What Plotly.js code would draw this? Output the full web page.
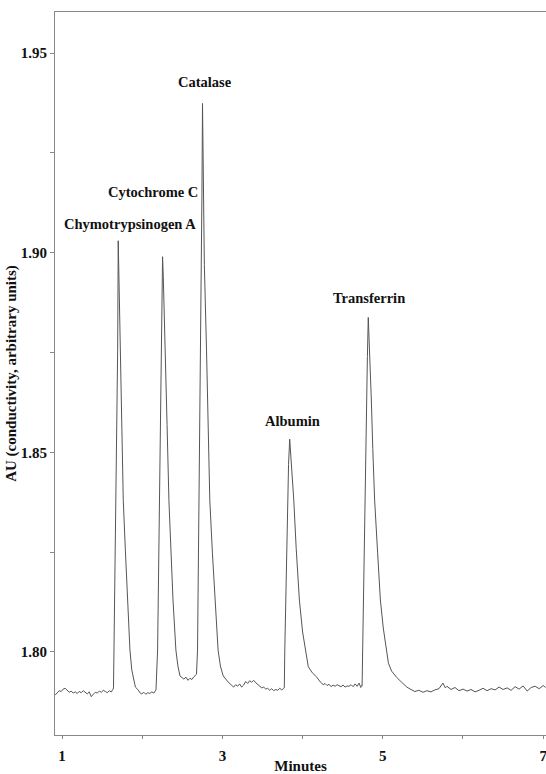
<!DOCTYPE html>
<html>
<head>
<meta charset="utf-8">
<script src="https://cdn.plot.ly/plotly-3.0.1.min.js"></script>
<style>html,body{margin:0;padding:0;background:#fff;}#chart{width:546px;height:774px;}</style>
</head>
<body>
<div id="chart"></div>
<script>
// Time (minutes) and detector signal (AU)
var minutes = [
  0.915,0.94,0.965,0.99,1.015,1.04,1.065,1.09,1.115,1.14,1.165,1.19,1.215,1.24,1.265,1.29,1.315,1.34,1.365,1.39,1.415,1.44,1.465,1.49,1.515,1.54,1.565,1.59,1.615,1.635,
  1.642,1.648,1.660,1.673,1.685,1.694,1.701,1.710,1.723,1.742,1.764,1.790,1.818,1.847,1.870,1.889,1.915,1.950,
  1.97,1.995,2.02,2.045,2.07,2.095,2.12,2.145,2.165,
  2.172,2.192,2.202,2.212,2.222,2.233,2.244,2.254,2.263,2.275,2.291,2.310,2.333,2.358,2.384,2.420,2.445,2.471,2.495,
  2.52,2.545,2.57,2.595,2.62,2.645,2.665,
  2.677,2.690,2.700,2.711,2.720,2.731,2.745,2.752,2.760,2.775,2.802,2.820,2.843,2.875,2.908,2.946,2.975,3.010,3.070,3.140,
  3.165,3.19,3.215,3.24,3.265,3.29,3.315,3.34,3.365,3.39,3.415,3.44,3.465,3.49,3.515,3.54,3.565,3.59,3.615,3.64,3.665,3.69,3.715,3.74,3.76,
  3.772,3.778,3.795,3.811,3.825,3.839,3.850,3.868,3.890,3.920,3.960,4.000,4.035,4.071,4.120,4.176,4.220,4.258,
  4.28,4.305,4.33,4.355,4.38,4.405,4.43,4.455,4.48,4.505,4.53,4.555,4.58,4.605,4.63,4.655,4.68,4.705,4.725,4.737,
  4.742,4.749,4.762,4.778,4.798,4.808,4.819,4.830,4.845,4.857,4.875,4.898,4.935,4.970,5.006,5.044,5.070,5.110,5.170,5.230,5.300,
  5.35,5.40,5.45,5.50,5.55,5.60,5.65,5.70,5.75,5.78,5.80,5.85,5.90,5.95,6.00,6.05,6.10,6.15,6.20,6.25,6.30,6.35,6.40,6.45,6.50,6.55,6.60,6.65,6.70,6.75,6.80,6.85,6.90,6.95,7.00,7.03
];
var signal = [
  1.7892,1.7898,1.7903,1.7901,1.7907,1.7909,1.7905,1.7899,1.7902,1.7897,1.7900,1.7896,1.7901,1.7898,1.7903,1.7899,1.7895,1.7900,1.7888,1.7894,1.7899,1.7897,1.7902,1.7899,1.7904,1.7901,1.7898,1.7903,1.7900,1.7906,
  1.7910,1.8005,1.8200,1.8380,1.8580,1.8756,1.9030,1.8930,1.8756,1.8570,1.8380,1.8255,1.8130,1.8005,1.7955,1.7935,1.7912,1.7905,
  1.7898,1.7895,1.7899,1.7894,1.7898,1.7896,1.7900,1.7897,1.7902,
  1.7905,1.8005,1.8190,1.8380,1.8560,1.8756,1.8900,1.8990,1.8940,1.8860,1.8756,1.8570,1.8380,1.8250,1.8130,1.8005,1.7965,1.7940,1.7936,
  1.7932,1.7937,1.7929,1.7934,1.7931,1.7938,1.7942,
  1.7944,1.8005,1.8190,1.8381,1.8560,1.8756,1.9150,1.9374,1.9180,1.8970,1.8756,1.8570,1.8380,1.8250,1.8130,1.8005,1.7965,1.7940,1.7925,1.7912,
  1.7918,1.7914,1.7920,1.7912,1.7917,1.7926,1.7921,1.7928,1.7924,1.7929,1.7923,1.7918,1.7914,1.7910,1.7912,1.7907,1.7909,1.7904,1.7908,1.7903,1.7906,1.7904,1.7909,1.7905,1.7908,
  1.7910,1.8005,1.8200,1.8381,1.8470,1.8533,1.8500,1.8440,1.8381,1.8260,1.8130,1.8050,1.8005,1.7963,1.7948,1.7937,1.7925,1.7918,
  1.7921,1.7916,1.7919,1.7913,1.7917,1.7914,1.7918,1.7915,1.7913,1.7917,1.7912,1.7915,1.7914,1.7918,1.7913,1.7920,1.7914,1.7922,1.7911,1.7916,
  1.7915,1.8005,1.8190,1.8381,1.8631,1.8740,1.8838,1.8790,1.8700,1.8631,1.8510,1.8381,1.8250,1.8130,1.8060,1.8005,1.7972,1.7952,1.7937,1.7925,1.7912,
  1.7906,1.7901,1.7904,1.7899,1.7903,1.7900,1.7905,1.7908,1.7922,1.7910,1.7914,1.7906,1.7911,1.7903,1.7907,1.7902,1.7906,1.7900,1.7904,1.7909,1.7903,1.7908,1.7905,1.7912,1.7906,1.7910,1.7904,1.7913,1.7907,1.7915,1.7902,1.7911,1.7914,1.7908,1.7916,1.7911
];
// Peak labels
var peakNames = ["Chymotrypsinogen A", "Cytochrome C", "Catalase", "Albumin", "Transferrin"];
var labelX = [1.848, 2.135, 2.783, 3.868, 4.828];
var labelY = [1.9072, 1.9152, 1.9427, 1.8579, 1.8887];

var xTickVals = [1, 2, 3, 4, 5, 6, 7];
var xTickText = ["1", "", "3", "", "5", "", "7"];
var yTickVals = [1.80, 1.825, 1.85, 1.875, 1.90, 1.925, 1.95];
var yTickText = ["1.80", "", "1.85", "", "1.90", "", "1.95"];

var serif = "'Liberation Serif', 'Times New Roman', serif";

var trace = {
  x: minutes,
  y: signal,
  type: "scatter",
  mode: "lines",
  line: {color: "#555555", width: 1},
  hoverinfo: "skip"
};

var annotations = peakNames.map(function (name, i) {
  return {
    x: labelX[i], y: labelY[i], xref: "x", yref: "y",
    text: "<b>" + name + "</b>", showarrow: false,
    xanchor: "center", yanchor: "middle",
    font: {family: serif, size: 14.5, color: "#111"}
  };
});

var layout = {
  width: 546, height: 774,
  margin: {l: 55, r: 0, t: 12, b: 39, pad: 0},
  paper_bgcolor: "#fff", plot_bgcolor: "#fff",
  showlegend: false,
  font: {family: serif, color: "#111"},
  xaxis: {
    range: [0.9127, 7.035],
    tickvals: xTickVals, ticktext: xTickText,
    ticks: "outside", ticklen: 3, tickcolor: "#888",
    ticklabelstandoff: 4, ticklabeloverflow: "allow",
    showline: true, linecolor: "#888", linewidth: 1, mirror: true,
    showgrid: false, zeroline: false,
    tickfont: {family: serif, size: 15, color: "#111", weight: "bold"},
    title: {text: "<b>Minutes</b>", font: {family: serif, size: 15, color: "#111"}, standoff: 0},
    automargin: false
  },
  yaxis: {
    range: [1.7792, 1.9603],
    tickvals: yTickVals, ticktext: yTickText,
    ticks: "outside", ticklen: 4, tickcolor: "#888",
    showline: true, linecolor: "#888", linewidth: 1,
    showgrid: false, zeroline: false,
    tickfont: {family: serif, size: 15, color: "#111", weight: "bold"},
    title: {text: "<b>AU (conductivity, arbitrary units)</b>", font: {family: serif, size: 15, color: "#111"}, standoff: 0},
    automargin: false
  },
  annotations: annotations
};

Plotly.newPlot("chart", [trace], layout, {displayModeBar: false, staticPlot: true});
</script>
</body>
</html>
